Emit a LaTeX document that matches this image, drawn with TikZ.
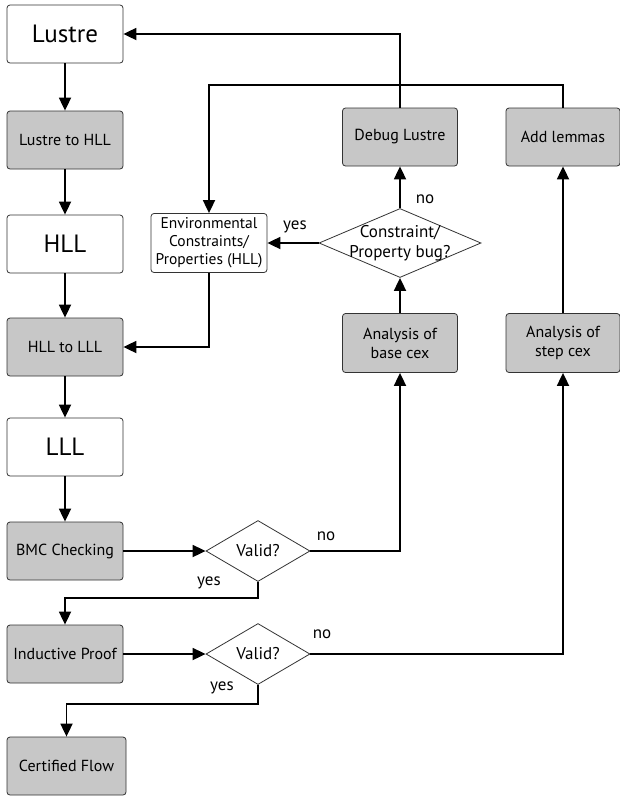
\documentclass[tikz,border=0pt]{standalone}
\usepackage{fontspec}
\setmainfont{PT Sans}
\usetikzlibrary{shapes.geometric,arrows.meta}
\begin{document}
\begin{tikzpicture}[x=1pt,y=-1pt,
  box/.style={draw=black!80,line width=0.8pt,rounded corners=3pt,minimum width=116pt,minimum height=58pt,inner sep=1pt,align=center,font=\fontsize{16}{19}\selectfont},
  bigbox/.style={box,fill=white,font=\fontsize{25}{29}\selectfont},
  graybox/.style={box,fill=black!22},
  decision/.style={diamond,draw=black!80,line width=0.8pt,fill=white,inner sep=0pt,align=center,font=\fontsize{17}{20}\selectfont},
  flow/.style={line width=1.8pt,-{Triangle[length=13pt,width=12pt]}},
  lbl/.style={font=\fontsize{17}{20}\selectfont}]
\useasboundingbox (0,0) rectangle (620,796);
\fill[white] (0,0) rectangle (620,796);

% main column
\node[bigbox]  (lustre) at (65,34)  {Lustre};
\node[graybox] (l2h)    at (65,140) {Lustre to HLL};
\node[bigbox]  (hll)    at (65,244) {HLL};
\node[graybox] (h2l)    at (65,347) {HLL to LLL};
\node[bigbox]  (lll)    at (65,447) {LLL};
\node[graybox] (bmc)    at (65,551) {BMC Checking};
\node[graybox] (ind)    at (65,654) {Inductive Proof};
\node[graybox,minimum width=119pt] (cert) at (66.5,766) {Certified Flow};

% side column
\node[box,fill=white,minimum width=116pt,minimum height=59pt,inner sep=0pt,font=\fontsize{15.5}{18}\selectfont]
  (env) at (209,243) {Environmental\\Constraints/\\Properties (HLL)};
\node[graybox,minimum width=115pt] (dbg)   at (400,137) {Debug Lustre};
\node[graybox,minimum width=114pt] (lem)   at (563,137) {Add lemmas};
\node[graybox,minimum width=115pt,minimum height=59pt] (base)  at (400,343) {Analysis of\\base cex};
\node[graybox,minimum width=114pt,minimum height=59pt] (step)  at (563,343) {Analysis of\\step cex};

% decisions
\node[decision,minimum width=162pt,minimum height=69pt] (bug) at (400,243) {};
\node[align=center,font=\fontsize{17}{20}\selectfont] (bugtxt) at (bug.center) {Constraint/\\Property bug?};
\node[decision,minimum width=104pt,minimum height=61pt] (v1) at (258,551) {Valid?};
\node[decision,minimum width=104pt,minimum height=61pt] (v2) at (258,654) {Valid?};

% main flow
\draw[flow] (lustre) -- (l2h);
\draw[flow] (l2h) -- (hll);
\draw[flow] (hll) -- (h2l);
\draw[flow] (h2l) -- (lll);
\draw[flow] (lll) -- (bmc);
\draw[flow] (bmc) -- (v1);
\draw[flow] (ind) -- (v2);
\draw[flow] (v1.south) -- ++(0,16) -| (ind.north);
\draw[flow] (v2.south) -- ++(0,19) -| (cert.north);

% counterexample analysis
\draw[flow] (v1.east) -| (base.south);
\draw[flow] (v2.east) -| (step.south);
\draw[flow] (base) -- (bug);
\draw[flow] (step) -- (lem);
\draw[flow] (bug.north) -- (dbg.south);
\draw[flow] (bug.west) -- (env.east);

% feedback loops
\draw[flow] (dbg.north) |- (lustre.east);
\draw[flow] (lem.north) -- ++(0,-23) -| (env.north);
\draw[flow] (env.south) |- (h2l.east);

% labels
\node[lbl] (y0) at (295,227) {yes};
\node[lbl] (n0) at (425,199) {no};
\node[lbl] (n1) at (326,536) {no};
\node[lbl] (y1) at (209,583) {yes};
\node[lbl] (n2) at (322,634) {no};
\node[lbl] (y2) at (222,688) {yes};
\end{tikzpicture}
\end{document}
